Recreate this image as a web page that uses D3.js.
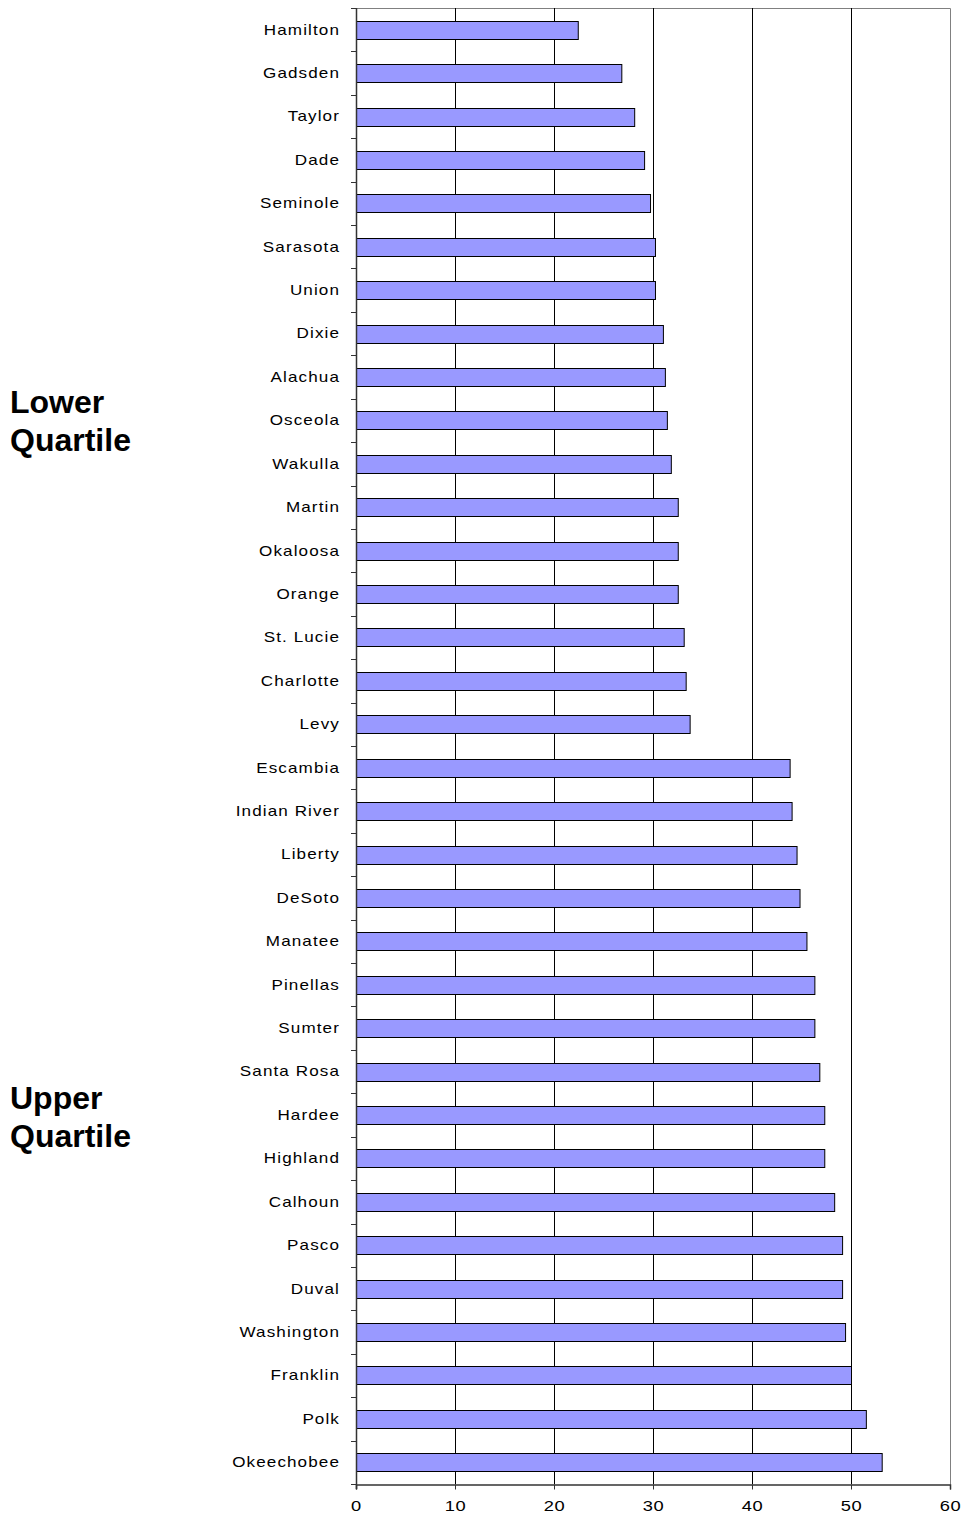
<!DOCTYPE html>
<html>
<head>
<meta charset="utf-8">
<script src="https://cdn.jsdelivr.net/npm/d3@7"></script>
<style>
  body { margin: 0; background: #fff; }
</style>
</head>
<body>
<div id="chart"></div>
<script>
// Counties and their values
const counties = [
  "Hamilton", "Gadsden", "Taylor", "Dade", "Seminole", "Sarasota", "Union",
  "Dixie", "Alachua", "Osceola", "Wakulla", "Martin", "Okaloosa", "Orange",
  "St. Lucie", "Charlotte", "Levy", "Escambia", "Indian River", "Liberty",
  "DeSoto", "Manatee", "Pinellas", "Sumter", "Santa Rosa", "Hardee",
  "Highland", "Calhoun", "Pasco", "Duval", "Washington", "Franklin", "Polk",
  "Okeechobee"
];
const values = [
  22.4, 26.8, 28.1, 29.1, 29.7, 30.2, 30.2,
  31.0, 31.2, 31.4, 31.8, 32.5, 32.5, 32.5,
  33.1, 33.3, 33.7, 43.8, 44.0, 44.5,
  44.8, 45.5, 46.3, 46.3, 46.8, 47.3,
  47.3, 48.3, 49.1, 49.1, 49.4, 50.0, 51.5,
  53.1
];
const xTicks = [0, 10, 20, 30, 40, 50, 60];
const groupLabels = [
  { lines: ["Lower", "Quartile"], y: 413 },
  { lines: ["Upper", "Quartile"], y: 1109 }
];

const data = counties.map((c, i) => ({ name: c, value: values[i] }));

const margin = { top: 8, right: 14, bottom: 32, left: 356 };
const width = 964 - margin.left - margin.right;
const height = 1516 - margin.top - margin.bottom;
const stretch = 1.22; // the original text is drawn a bit wide

const svg = d3.select("#chart")
  .append("svg")
  .attr("width", 964)
  .attr("height", 1516)
  .style("font-family", "'Liberation Sans', Arial, sans-serif");

const g = svg.append("g")
  .attr("transform", "translate(" + margin.left + "," + margin.top + ")");

// scales
const x = d3.scaleLinear().domain([0, 60]).range([0, width]);
const y = d3.scaleBand()
  .domain(counties)
  .range([0, height])
  .paddingInner(0.585)
  .paddingOuter(0.2925);

// plot area border (top and right, gray)
g.append("path")
  .attr("d", "M0,0.5H" + (x(60) + 0.5) + "V" + height)
  .attr("fill", "none")
  .attr("stroke", "#808080")
  .attr("stroke-width", 1);

// gridlines
g.selectAll(".grid")
  .data(xTicks.filter(d => d > 0 && d < 60))
  .enter().append("line")
  .attr("class", "grid")
  .attr("x1", d => Math.round(x(d)) + 0.5)
  .attr("x2", d => Math.round(x(d)) + 0.5)
  .attr("y1", 0)
  .attr("y2", height)
  .attr("stroke", "#000")
  .attr("stroke-width", 1);

// bars
g.selectAll(".bar")
  .data(data)
  .enter().append("rect")
  .attr("class", "bar")
  .attr("x", 0.5)
  .attr("y", d => Math.round(y(d.name)) + 0.5)
  .attr("width", d => x(d.value))
  .attr("height", Math.round(y.bandwidth()))
  .attr("fill", "#9999FF")
  .attr("stroke", "#000")
  .attr("stroke-width", 1);

// y axis line and ticks between categories
g.append("line")
  .attr("x1", 0.5).attr("x2", 0.5)
  .attr("y1", 0).attr("y2", height + 5)
  .attr("stroke", "#333").attr("stroke-width", 1.5);

g.selectAll(".ytick")
  .data(d3.range(counties.length + 1))
  .enter().append("line")
  .attr("class", "ytick")
  .attr("x1", -5).attr("x2", 0)
  .attr("y1", i => Math.round(i * y.step()) + 0.5)
  .attr("y2", i => Math.round(i * y.step()) + 0.5)
  .attr("stroke", "#333");

// category labels
g.selectAll(".ylabel")
  .data(data)
  .enter().append("text")
  .attr("class", "ylabel")
  .attr("transform", d => "translate(-16," + (y(d.name) + y.bandwidth() / 2) + ") scale(" + stretch + ",1)")
  .attr("dy", "0.35em")
  .attr("text-anchor", "end")
  .style("font-size", "14px")
  .style("letter-spacing", "0.9px")
  .attr("fill", "#000")
  .text(d => d.name);

// x axis
const xAxis = g.append("g")
  .attr("transform", "translate(0," + (height + 0.5) + ")")
  .call(d3.axisBottom(x).tickValues(xTicks).tickSize(5).tickPadding(11));
xAxis.select(".domain").attr("stroke", "#333").attr("stroke-width", 1.5);
xAxis.selectAll(".tick line").attr("stroke", "#333");
xAxis.selectAll("text")
  .attr("transform", "scale(" + stretch + ",1)")
  .style("font-family", "'Liberation Sans', Arial, sans-serif")
  .style("font-size", "15px")
  .style("letter-spacing", "0.5px")
  .attr("fill", "#000");

// quartile labels
groupLabels.forEach(gl => {
  gl.lines.forEach((t, i) => {
    svg.append("text")
      .attr("x", 10)
      .attr("y", gl.y + i * 38)
      .style("font-size", "32px")
      .style("font-weight", "bold")
      .attr("fill", "#000")
      .text(t);
  });
});
</script>
</body>
</html>
